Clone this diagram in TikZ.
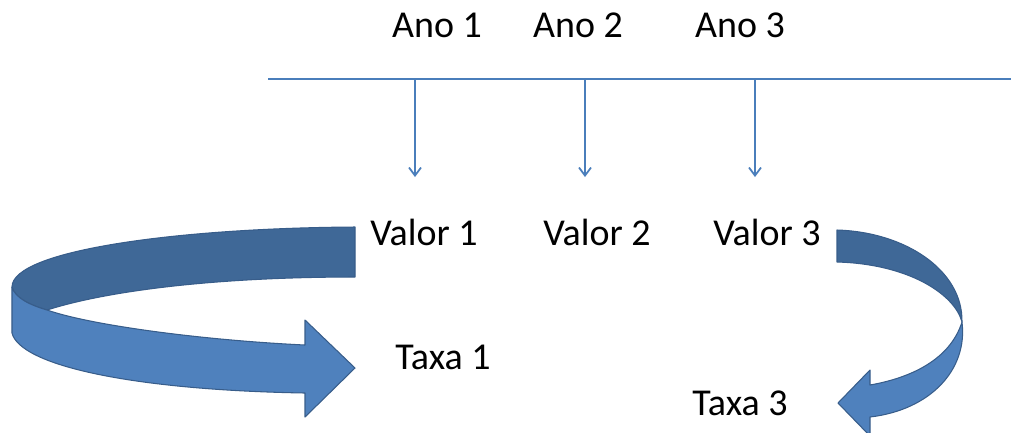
\documentclass[tikz,border=0pt]{standalone}
\usepackage{fontspec}
\setmainfont{Carlito}
\usetikzlibrary{arrows.meta}
\definecolor{linha}{HTML}{4A7EBB}
\definecolor{fitaescura}{HTML}{3F6897}
\definecolor{fitaclara}{HTML}{4F81BD}
\definecolor{borda}{HTML}{385D8A}
\tikzset{
  rotulo/.style={font=\fontsize{10.8}{13}\selectfont, inner sep=0pt},
  seta/.style={draw=linha, line width=0.5pt, -{Straight Barb[length=0.08cm,width=0.12cm]}},
  fita/.style={draw=borda, line width=0.3pt, line join=round}
}
\begin{document}
\begin{tikzpicture}[x=0.01cm,y=-0.01cm]
	\useasboundingbox (0,0) rectangle (1011,432);
	% anos e linha do tempo
	\node[rotulo] (ano1) at (437,25) {Ano 1};
	\node[rotulo] (ano2) at (578,25) {Ano 2};
	\node[rotulo] (ano3) at (740,25) {Ano 3};
	\coordinate (ini) at (268,79);
	\coordinate (fim) at (1011,79);
	\draw[linha, line width=0.5pt] (ini) -- (fim);
	% valores
	\node[rotulo] (valor1) at (424,232) {Valor 1};
	\node[rotulo] (valor2) at (597,232) {Valor 2};
	\node[rotulo] (valor3) at (767,232) {Valor 3};
	\coordinate (t1) at (415,79);
	\coordinate (t2) at (585,79);
	\coordinate (t3) at (755,79);
	\coordinate (v1) at (415,177);
	\coordinate (v2) at (585,177);
	\coordinate (v3) at (755,177);
	\draw[seta] (t1) -- (v1);
	\draw[seta] (t2) -- (v2);
	\draw[seta] (t3) -- (v3);
	% taxas
	\node[rotulo] (taxa1) at (443,357) {Taxa 1};
	\node[rotulo] (taxa3) at (740,403) {Taxa 3};
	% fita da esquerda
	\filldraw[fita, fill=fitaescura] (355,227) .. controls (180,228) and (12,250) .. (12,287)
		.. controls (15,298) and (30,305) .. (47,310)
		.. controls (110,290) and (220,277) .. (355,277) -- cycle;
	\filldraw[fita, fill=fitaclara] (12,287) -- (12,333)
		.. controls (20,365) and (130,390) .. (305,393)
		-- (305,417) -- (355,368) -- (305,320) -- (305,345)
		.. controls (200,340) and (90,325) .. (47,310)
		.. controls (30,305) and (15,298) .. (12,287) -- cycle;
	% fita da direita
	\filldraw[fita, fill=fitaescura] (837,230) .. controls (905,232) and (963,270) .. (962,322)
		.. controls (955,295) and (910,264) .. (837,262) -- cycle;
	\filldraw[fita, fill=fitaclara] (962,322)
		.. controls (968,370) and (930,410) .. (870,417)
		-- (870,436) -- (838,403) -- (870,370) -- (870,385)
		.. controls (910,378) and (950,360) .. (962,322) -- cycle;
\end{tikzpicture}
\end{document}
